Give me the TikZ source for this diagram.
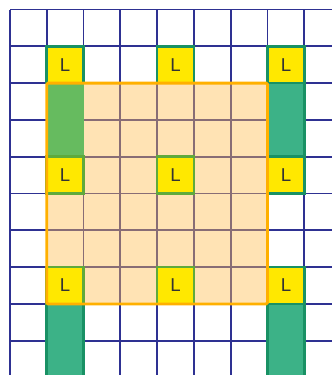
\documentclass[tikz,border=0pt]{standalone}
\usepackage{fontspec}
\setsansfont{Liberation Sans}

\definecolor{gridblue}{RGB}{46,49,146}
\definecolor{peach}{RGB}{255,190,80}
\definecolor{rimorange}{RGB}{255,176,0}
\definecolor{lyellow}{RGB}{255,232,0}
\definecolor{tealfill}{RGB}{60,178,135}
\definecolor{tealrim}{RGB}{25,145,100}
\definecolor{leafgreen}{RGB}{102,187,95}
\definecolor{leafrim}{RGB}{95,170,60}

\begin{document}
\begin{tikzpicture}[font=\sffamily\Large,
  lcell/.style={draw=tealrim, line width=2pt, fill=lyellow, minimum size=1cm, inner sep=0pt, text=black!80},
  lcellin/.style={lcell, draw=leafrim},
  block/.style={fill=tealfill, draw=tealrim, line width=2pt}]
\useasboundingbox (-0.27,0.26) rectangle (8.75,-9.93);
\begin{scope}
\clip (-0.27,0.26) rectangle (8.75,-9.93);
% grid
\draw[gridblue, line width=1.4pt] (0,-10.5) grid (9.5,0);
% area
\fill[peach, fill opacity=0.43] (1,-2) rectangle (7,-8);
\fill[leafgreen] (1,-2) rectangle (2,-4);
\filldraw[block] (7,-2) rectangle (8,-4);
\filldraw[block] (1,-8) rectangle (2,-10.5);
\filldraw[block] (7,-8) rectangle (8,-10.5);
% L cells
\foreach \c in {1,4,7}
  \node[lcell] (L-1-\c) at (\c+0.5,-1.5) {L};
\foreach \r in {4,7}{
  \node[lcellin] (L-\r-1) at (1.5,-\r-0.5) {L};
  \node[lcellin] (L-\r-4) at (4.5,-\r-0.5) {L};
  \node[lcell] (L-\r-7) at (7.5,-\r-0.5) {L};
}
\draw[rimorange, line width=2.2pt, rounded corners=1pt] (1,-2) rectangle (7,-8);
\end{scope}
\end{tikzpicture}
\end{document}
